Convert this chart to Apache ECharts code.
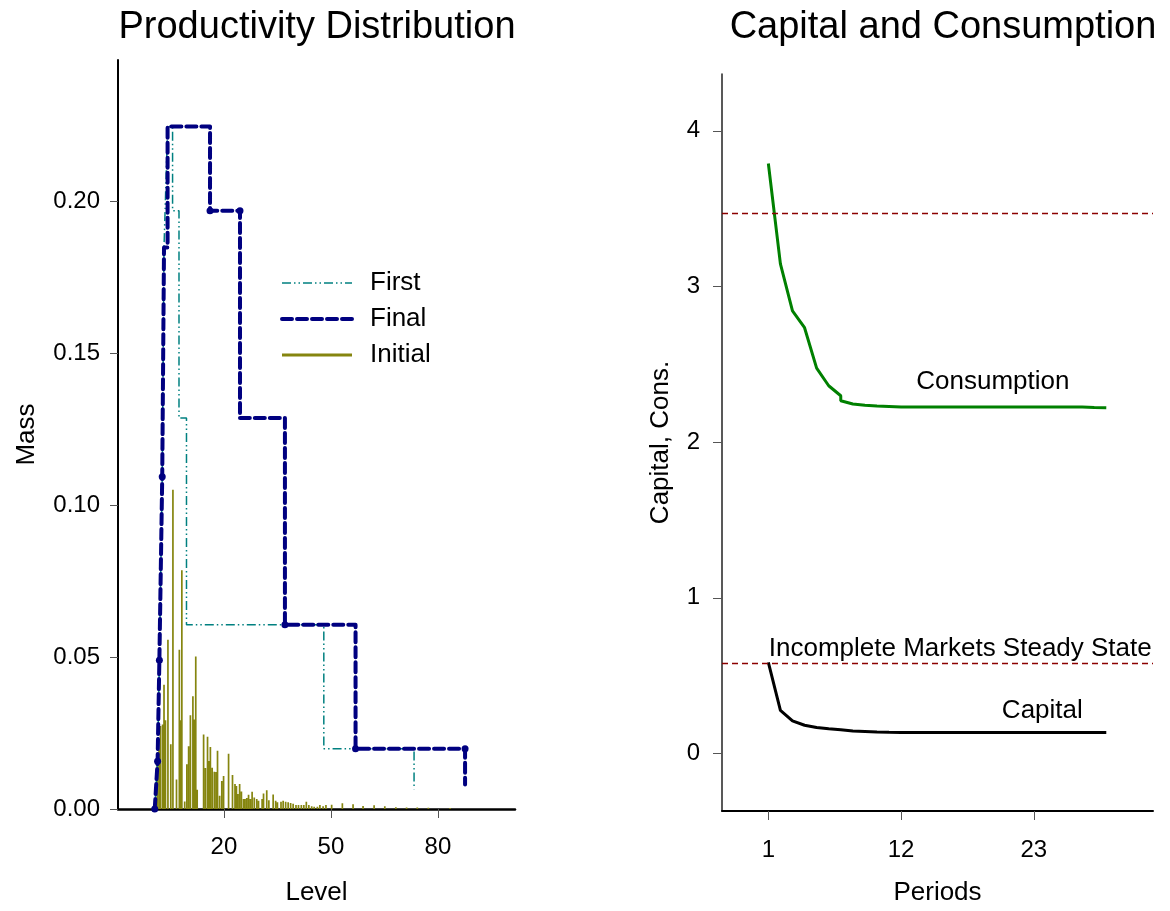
<!DOCTYPE html>
<html><head><meta charset="utf-8">
<script src="https://cdn.jsdelivr.net/npm/echarts@6/dist/echarts.min.js"></script>
<style>html,body{margin:0;padding:0;background:#fff}#c{width:1170px;height:911px}</style>
</head><body><div id="c"></div>
<script>
// ---- tick labels ----
const levelTicks = [20, 50, 80];
const massTicks = [0, 0.05, 0.10, 0.15, 0.20];
const periodTicks = [1, 12, 23];
const capConsTicks = [0, 1, 2, 3, 4];

// ---- Productivity distribution: Initial (spikes) ----
const initialLevel = [0.6,1.3,1.8,2.2,2.8,3.2,3.6,4.3,5.1,5.7,6.7,7.5,7.8,8.2,9.0,9.6,10.1,10.6,11.3,11.7,12.1,12.5,
  14.3,14.8,15.4,15.8,16.2,16.7,17.3,17.8,18.2,18.8,19.4,19.9,21.3,22.4,23.1,23.5,23.9,24.4,24.9,25.5,25.9,26.4,26.9,
  27.4,27.9,28.5,29.2,29.7,30.7,31.1,32.0,32.6,33.8,34.5,35.0,36.0,36.6,37.3,38.0,38.7,39.4,40.2,40.9,41.7,42.4,43.1,
  43.8,44.6,45.3,46.2,46.9,47.8,48.6,50.2,53.2,56.2,59.0,62.1,65.1,68.2,71.2,74.2,77.3,80.3,83.4,86.4,89.4,92.4];
const initialMass = [0.003,0.0157,0.0196,0.0273,0.0278,0.0409,0.0292,0.0557,0.0213,0.1051,0.0097,0.0524,0.0292,0.0786,0.0025,0.0147,0.0207,0.0309,0.0371,0.0295,0.0502,0.0063,
  0.0245,0.0135,0.0238,0.0158,0.0204,0.0136,0.0123,0.0122,0.0192,0.0044,0.0092,0.0109,0.0182,0.0112,0.0082,0.0076,0.0049,0.0082,0.0058,0.0033,0.0033,0.0036,0.0047,
  0.0033,0.0057,0.0038,0.0033,0.0027,0.0033,0.0051,0.0062,0.0029,0.0048,0.0027,0.0022,0.0024,0.0027,0.0024,0.0022,0.0020,0.0017,0.0013,0.0013,0.0013,0.0013,0.0024,
  0.0013,0.0009,0.0007,0.0007,0.0013,0.0009,0.0013,0.0014,0.0019,0.0016,0.0010,0.0012,0.0009,0.0006,0.0005,0.0005,0.0004,0.0002,0.0003,0.0002,0.0002,0.0002];

// ---- First (step outline) ----
const firstLevel = [0.6,1.4,1.9,2.7,3.2,4.2,5.6,5.6,7.4,7.4,9.5,9.5,48.0,48.0,73.3,73.3];
const firstMass  = [0,0.0157,0.049,0.1094,0.1849,0.2247,0.2247,0.197,0.197,0.1287,0.1287,0.0607,0.0607,0.0198,0.0198,0.0065];

// ---- Final (step outline) ----
const finalLevel = [0.6,1.4,1.9,2.7,3.2,3.2,4.2,4.2,16.1,16.1,24.5,24.5,37.1,37.1,56.9,56.9,87.6,87.6];
const finalMass  = [0,0.0157,0.049,0.1094,0.1094,0.1849,0.1849,0.2247,0.2247,0.197,0.197,0.1287,0.1287,0.0607,0.0607,0.0198,0.0198,0.0081];
const finalDot   = [1,1,1,1,0,0,0,0,0,1,1,0,0,1,0,1,1,0];

// ---- Capital and consumption paths ----
const periods     = [1,2,3,4,5,6,7,7,8,9,10,11,12,13,14,15,16,17,18,19,20,21,22,23,24,25,26,27,28,29];
const consumption = [3.79,3.145,2.843,2.735,2.475,2.362,2.298,2.266,2.245,2.237,2.232,2.229,2.226,2.226,2.226,2.226,2.226,2.226,2.226,2.226,2.226,2.226,2.226,2.226,2.226,2.226,2.226,2.225,2.222,2.221];
const capital     = [0.585,0.277,0.209,0.181,0.166,0.158,0.152,0.147,0.144,0.141,0.138,0.136,0.135,0.134,0.134,0.134,0.134,0.134,0.134,0.134,0.134,0.134,0.134,0.134,0.134,0.134,0.134,0.134,0.134,0.134];
const steadyState = [3.473, 0.581];

// ---- build ----
const FONT = 'Liberation Sans, Arial, Helvetica, sans-serif';
const pair = (xs, ys) => xs.map((x, i) => [x, ys[i]]);
const initialData = [];
initialLevel.forEach((x, i) => { initialData.push([x, 0], [x, initialMass[i]], [x, null]); });
const finalDots = finalLevel.map((x, i) => finalDot[i] ? [x, finalMass[i]] : null).filter(Boolean);

const tickStyle = { color: '#555', width: 1 };
const hiddenSym = { color: 'rgba(0,0,0,0)', borderWidth: 0, opacity: 0 };
const chart = echarts.init(document.getElementById('c'), null, { renderer: 'canvas' });
chart.setOption({
  animation: false,
  backgroundColor: '#fff',
  textStyle: { fontFamily: FONT, color: '#000' },
  title: [
    { text: 'Productivity Distribution', left: 312, top: 4, textAlign: 'center',
      textStyle: { fontFamily: FONT, fontSize: 38, fontWeight: 'normal', color: '#000' } },
    { text: 'Capital and Consumption', left: 938, top: 4, textAlign: 'center',
      textStyle: { fontFamily: FONT, fontSize: 38, fontWeight: 'normal', color: '#000' } }
  ],
  legend: {
    orient: 'vertical', left: 275, top: 265, itemWidth: 70, itemHeight: 14, itemGap: 10,
    selectedMode: false,
    itemStyle: hiddenSym,
    data: [
      { name: 'First', itemStyle: hiddenSym, lineStyle: { width: 1.6 } },
      { name: 'Final', itemStyle: hiddenSym, lineStyle: { width: 4, type: [10, 5], cap: 'round' } },
      { name: 'Initial', itemStyle: hiddenSym, lineStyle: { width: 3 } }
    ],
    textStyle: { fontFamily: FONT, fontSize: 26, color: '#000', padding: [0, 0, 0, 13] }
  },
  grid: [
    { left: 118, top: 60, width: 397, height: 753 },
    { left: 722, top: 74, width: 431, height: 742 }
  ],
  xAxis: [
    { type: 'value', gridIndex: 0, min: -9.7, max: 101.6,
      axisLine: { onZero: false, lineStyle: { color: '#000', width: 2.5 } },
      axisTick: { show: true, customValues: levelTicks, length: 9, lineStyle: tickStyle },
      axisLabel: { customValues: levelTicks, fontSize: 24, color: '#000', margin: 26, fontFamily: FONT },
      splitLine: { show: false },
      name: 'Level', nameLocation: 'middle', nameGap: 71,
      nameTextStyle: { fontSize: 26, color: '#000', fontFamily: FONT } },
    { type: 'value', gridIndex: 1, min: -2.84, max: 32.87,
      axisLine: { onZero: false, lineStyle: { color: '#000', width: 2 } },
      axisTick: { show: true, customValues: periodTicks, length: 9, lineStyle: tickStyle },
      axisLabel: { customValues: periodTicks, fontSize: 24, color: '#000', margin: 27, fontFamily: FONT },
      splitLine: { show: false },
      name: 'Periods', nameLocation: 'middle', nameGap: 69,
      nameTextStyle: { fontSize: 26, color: '#000', fontFamily: FONT } }
  ],
  yAxis: [
    { type: 'value', gridIndex: 0, min: 0, max: 0.2466,
      axisLine: { show: true, onZero: false, lineStyle: { color: '#000', width: 2 } },
      axisTick: { show: true, customValues: massTicks, length: 8, lineStyle: tickStyle },
      axisLabel: { customValues: massTicks, fontSize: 24, color: '#000', margin: 18, fontFamily: FONT,
        formatter: v => v.toFixed(2) },
      splitLine: { show: false },
      name: 'Mass', nameLocation: 'middle', nameGap: 78, nameRotate: 90,
      nameTextStyle: { fontSize: 26, color: '#000', fontFamily: FONT } },
    { type: 'value', gridIndex: 1, min: -0.37, max: 4.365,
      axisLine: { show: true, onZero: false, lineStyle: { color: '#222', width: 1.5 } },
      axisTick: { show: true, customValues: capConsTicks, length: 9, lineStyle: tickStyle },
      axisLabel: { customValues: capConsTicks, fontSize: 24, color: '#000', margin: 22, fontFamily: FONT },
      splitLine: { show: false },
      name: 'Capital, Cons.', nameLocation: 'middle', nameGap: 48, nameRotate: 90,
      nameTextStyle: { fontSize: 26, color: '#000', fontFamily: FONT } }
  ],
  series: [
    { name: 'Initial', type: 'line', xAxisIndex: 0, yAxisIndex: 0, data: initialData,
      symbol: 'none', connectNulls: false, z: 1,
      lineStyle: { color: '#85850f', width: 1.7 }, itemStyle: { color: '#808000' } },
    { name: 'First', type: 'line', xAxisIndex: 0, yAxisIndex: 0, data: pair(firstLevel, firstMass),
      symbol: 'none', z: 2,
      lineStyle: { color: '#008080', width: 1.5, type: [9, 3, 1.5, 3, 1.5, 3] }, itemStyle: { color: '#008080' } },
    { name: 'Final', type: 'line', xAxisIndex: 0, yAxisIndex: 0, data: pair(finalLevel, finalMass),
      symbol: 'none', z: 3,
      lineStyle: { color: '#000080', width: 4, type: [10, 5], cap: 'round', join: 'round' }, itemStyle: { color: '#000080' } },
    { name: 'FinalDots', type: 'scatter', xAxisIndex: 0, yAxisIndex: 0, data: finalDots,
      symbol: 'circle', symbolSize: 7, z: 4, itemStyle: { color: '#000080', opacity: 1 } },
    { name: 'Consumption', type: 'line', xAxisIndex: 1, yAxisIndex: 1, data: pair(periods, consumption),
      symbol: 'none', lineStyle: { color: '#008000', width: 3 },
      markLine: { silent: true, symbol: 'none', label: { show: false },
        lineStyle: { color: '#8b0000', width: 1.3, type: [6, 4] },
        data: steadyState.map(v => ({ yAxis: v })) } },
    { name: 'Capital', type: 'line', xAxisIndex: 1, yAxisIndex: 1, data: pair(periods, capital),
      symbol: 'none', lineStyle: { color: '#000', width: 3 } },
    { name: 'Labels', type: 'scatter', xAxisIndex: 1, yAxisIndex: 1, symbolSize: 0, silent: true,
      itemStyle: { opacity: 1 },
      data: [
        { value: [19.6, 2.39], name: 'Consumption' },
        { value: [23.7, 0.273], name: 'Capital' },
        { value: [16.9, 0.675], name: 'Incomplete Markets Steady State' }
      ],
      label: { show: true, position: 'inside', formatter: '{b}', color: '#000', opacity: 1, fontFamily: FONT,
        fontSize: 26, textBorderWidth: 0 } }
  ]
});
</script></body></html>
